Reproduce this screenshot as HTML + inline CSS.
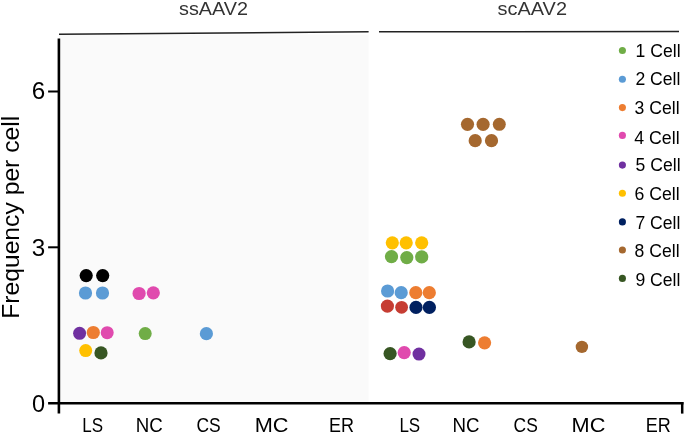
<!DOCTYPE html>
<html lang="en">
<head>
<meta charset="utf-8">
<title>Frequency per cell – ssAAV2 vs scAAV2</title>
<style>
  html, body { margin: 0; padding: 0; background: #ffffff; }
  body { width: 685px; height: 435px; overflow: hidden; }
  svg { display: block; will-change: transform; }
  text { font-family: "Liberation Sans", sans-serif; }
</style>
</head>
<body>
<svg width="685" height="435" viewBox="0 0 685 435">
  <rect x="0" y="0" width="685" height="435" fill="#ffffff"/>

  <!-- shaded ssAAV2 panel -->
  <rect x="59" y="34.6" width="309.6" height="368.4" fill="#fafafa"/>

  <!-- group header lines -->
  <line x1="59" y1="34.2" x2="368.6" y2="31.8" stroke="#222222" stroke-width="1.5"/>
  <line x1="379" y1="31.7" x2="679" y2="31.6" stroke="#222222" stroke-width="1.5"/>

  <!-- group titles -->
  <g fill="#333333" font-size="17.7" text-anchor="middle">
    <text x="213.5" y="14.9" textLength="69" lengthAdjust="spacingAndGlyphs">ssAAV2</text>
    <text x="532.3" y="14.9" textLength="69.4" lengthAdjust="spacingAndGlyphs">scAAV2</text>
  </g>

  <!-- axes -->
  <g stroke="#000000" fill="none">
    <line x1="58.9" y1="38.4" x2="58.9" y2="413.6" stroke-width="2.6"/>
    <line x1="48.1" y1="403.3" x2="683.5" y2="403.3" stroke-width="2.6"/>
    <line x1="682.2" y1="402" x2="682.2" y2="413.6" stroke-width="2.5"/>
    <line x1="48.1" y1="91.5" x2="58" y2="91.5" stroke-width="2"/>
    <line x1="48.1" y1="247.3" x2="58" y2="247.3" stroke-width="2"/>
  </g>

  <!-- y tick labels -->
  <g fill="#000000" text-anchor="middle">
    <text x="38.6" y="98.5" font-size="23" textLength="13.5" lengthAdjust="spacingAndGlyphs">6</text>
    <text x="38.6" y="255.5" font-size="23" textLength="13.5" lengthAdjust="spacingAndGlyphs">3</text>
    <text x="38.5" y="411.5" font-size="23.5">0</text>
  </g>

  <!-- y axis title -->
  <text transform="translate(19,217.3) rotate(-90)" text-anchor="middle" font-size="24.7" fill="#000000">Frequency per cell</text>

  <!-- x category labels -->
  <g fill="#000000" font-size="20.8" text-anchor="middle">
    <text x="92.7" y="432.1" textLength="20.8" lengthAdjust="spacingAndGlyphs">LS</text>
    <text x="149.2" y="432.1" textLength="27" lengthAdjust="spacingAndGlyphs">NC</text>
    <text x="208.5" y="432.1" textLength="24.2" lengthAdjust="spacingAndGlyphs">CS</text>
    <text x="271.6" y="432.1" textLength="33.8" lengthAdjust="spacingAndGlyphs">MC</text>
    <text x="341.4" y="432.1" textLength="25" lengthAdjust="spacingAndGlyphs">ER</text>
    <text x="409.8" y="432.1" textLength="20.8" lengthAdjust="spacingAndGlyphs">LS</text>
    <text x="466" y="432.1" textLength="27" lengthAdjust="spacingAndGlyphs">NC</text>
    <text x="525.7" y="432.1" textLength="24.2" lengthAdjust="spacingAndGlyphs">CS</text>
    <text x="588.5" y="432.1" textLength="33.8" lengthAdjust="spacingAndGlyphs">MC</text>
    <text x="658.2" y="432.1" textLength="25" lengthAdjust="spacingAndGlyphs">ER</text>
  </g>

  <!-- data points: ssAAV2 -->
  <g>
    <circle cx="86.2" cy="275.6" r="6.6" fill="#000000"/>
    <circle cx="102.7" cy="275.6" r="6.6" fill="#000000"/>
    <circle cx="85.5" cy="293" r="6.6" fill="#5b9bd5"/>
    <circle cx="102.5" cy="293" r="6.6" fill="#5b9bd5"/>
    <circle cx="79.6" cy="333.3" r="6.5" fill="#7030a0"/>
    <circle cx="107.2" cy="332.7" r="6.5" fill="#e04aae"/>
    <circle cx="93.3" cy="332.5" r="6.6" fill="#ed7d31"/>
    <circle cx="85.7" cy="350.6" r="6.5" fill="#ffc000"/>
    <circle cx="101" cy="352.9" r="6.6" fill="#375623"/>
    <circle cx="139.1" cy="293.5" r="6.6" fill="#e04aae"/>
    <circle cx="153.3" cy="292.8" r="6.6" fill="#e04aae"/>
    <circle cx="145.2" cy="333.6" r="6.5" fill="#70ad47"/>
    <circle cx="206.4" cy="333.7" r="6.6" fill="#5b9bd5"/>
  </g>

  <!-- data points: scAAV2 -->
  <g>
    <circle cx="391.5" cy="256.7" r="6.6" fill="#70ad47"/>
    <circle cx="406.8" cy="257.6" r="6.6" fill="#70ad47"/>
    <circle cx="421.7" cy="256.9" r="6.6" fill="#70ad47"/>
    <circle cx="392.3" cy="242.8" r="6.6" fill="#ffc000"/>
    <circle cx="406.2" cy="242.8" r="6.6" fill="#ffc000"/>
    <circle cx="421.7" cy="242.8" r="6.6" fill="#ffc000"/>
    <circle cx="387.6" cy="291" r="6.6" fill="#5b9bd5"/>
    <circle cx="401.2" cy="292.7" r="6.6" fill="#5b9bd5"/>
    <circle cx="415.8" cy="292.7" r="6.6" fill="#ed7d31"/>
    <circle cx="429.3" cy="292.7" r="6.6" fill="#ed7d31"/>
    <circle cx="387.4" cy="306.1" r="6.6" fill="#c63d33"/>
    <circle cx="401.6" cy="307.3" r="6.4" fill="#c63d33"/>
    <circle cx="416" cy="307.4" r="6.6" fill="#002060"/>
    <circle cx="429.4" cy="307.4" r="6.6" fill="#002060"/>
    <circle cx="390.1" cy="353.6" r="6.6" fill="#375623"/>
    <circle cx="419" cy="354.1" r="6.5" fill="#7030a0"/>
    <circle cx="404.2" cy="352.6" r="6.6" fill="#e04aae"/>
    <circle cx="467.5" cy="124.3" r="6.6" fill="#a5682f"/>
    <circle cx="483.1" cy="124.3" r="6.6" fill="#a5682f"/>
    <circle cx="499.3" cy="124.3" r="6.5" fill="#a5682f"/>
    <circle cx="475.2" cy="140.7" r="6.6" fill="#a5682f"/>
    <circle cx="491.5" cy="140.7" r="6.6" fill="#a5682f"/>
    <circle cx="469.1" cy="341.9" r="6.6" fill="#375623"/>
    <circle cx="484.6" cy="342.8" r="6.6" fill="#ed7d31"/>
    <circle cx="581.9" cy="346.9" r="6.2" fill="#a5682f"/>
  </g>

  <!-- legend -->
  <g>
    <circle cx="622.4" cy="50.5" r="3.55" fill="#70ad47"/>
    <circle cx="622.4" cy="79.3" r="3.55" fill="#5b9bd5"/>
    <circle cx="622.4" cy="107.6" r="3.55" fill="#ed7d31"/>
    <circle cx="622.4" cy="135.4" r="3.55" fill="#e04aae"/>
    <circle cx="622.4" cy="165.1" r="3.55" fill="#7030a0"/>
    <circle cx="622.4" cy="193.2" r="3.55" fill="#ffc000"/>
    <circle cx="622.4" cy="221.9" r="3.55" fill="#002060"/>
    <circle cx="622.4" cy="250.0" r="3.55" fill="#a5682f"/>
    <circle cx="622.4" cy="278.4" r="3.55" fill="#375623"/>
  </g>
  <g fill="#000000" font-size="17.6" text-anchor="end">
    <text x="680.6" y="56.5" textLength="45" lengthAdjust="spacingAndGlyphs">1 Cell</text>
    <text x="680.4" y="84.6" textLength="45" lengthAdjust="spacingAndGlyphs">2 Cell</text>
    <text x="679.6" y="114" textLength="45" lengthAdjust="spacingAndGlyphs">3 Cell</text>
    <text x="679.6" y="143.6" textLength="45.4" lengthAdjust="spacingAndGlyphs">4 Cell</text>
    <text x="680.6" y="171.4" textLength="45" lengthAdjust="spacingAndGlyphs">5 Cell</text>
    <text x="679.6" y="200.2" textLength="45.2" lengthAdjust="spacingAndGlyphs">6 Cell</text>
    <text x="680.4" y="229.2" textLength="45" lengthAdjust="spacingAndGlyphs">7 Cell</text>
    <text x="679.6" y="257.3" textLength="45" lengthAdjust="spacingAndGlyphs">8 Cell</text>
    <text x="680.4" y="286" textLength="45" lengthAdjust="spacingAndGlyphs">9 Cell</text>
  </g>
</svg>
</body>
</html>
